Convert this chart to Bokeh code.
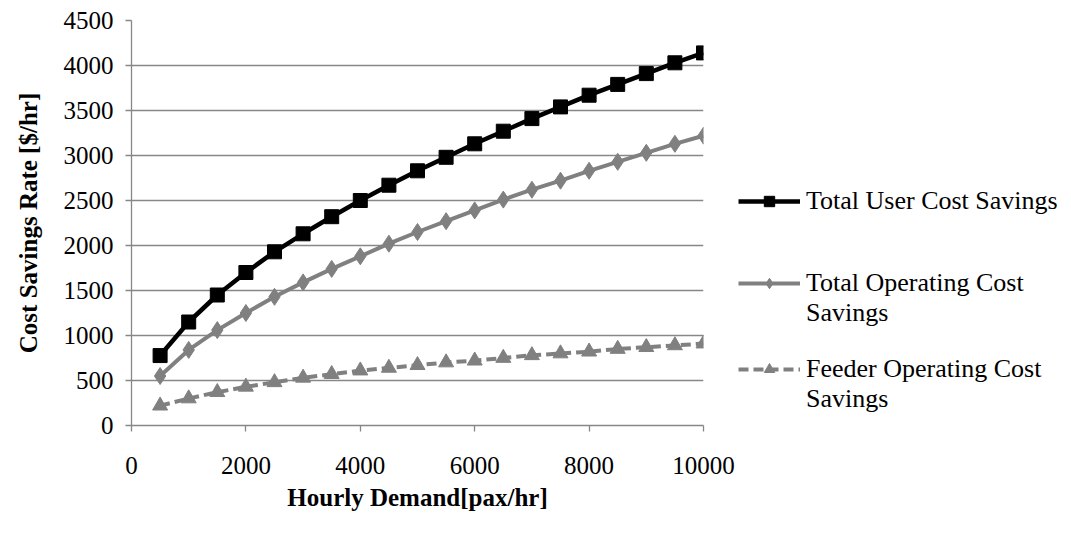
from bokeh.plotting import figure
from bokeh.layouts import row
from bokeh.models import Range1d, Legend, LegendItem, FixedTicker
from bokeh.embed import file_html
from bokeh.resources import INLINE

demand = [500, 1000, 1500, 2000, 2500, 3000, 3500, 4000, 4500, 5000,
          5500, 6000, 6500, 7000, 7500, 8000, 8500, 9000, 9500, 10000]
user_savings = [777, 1150, 1450, 1700, 1930, 2130, 2320, 2500, 2670, 2830,
                2980, 3130, 3270, 3410, 3540, 3670, 3790, 3910, 4030, 4140]
operating_savings = [550, 840, 1060, 1250, 1430, 1590, 1740, 1880, 2020, 2150,
                     2270, 2390, 2510, 2620, 2720, 2830, 2930, 3030, 3130, 3220]
feeder_savings = [220, 300, 370, 430, 480, 530, 570, 610, 640, 670,
                  700, 720, 750, 780, 800, 820, 850, 870, 890, 910]
legend_lines = [["Total User Cost Savings"],
                ["Total Operating Cost", "Savings"],
                ["Feeder Operating Cost", "Savings"]]
x_ticks = [0, 2000, 4000, 6000, 8000, 10000]
y_ticks = [0, 500, 1000, 1500, 2000, 2500, 3000, 3500, 4000, 4500]

FONT = "Liberation Serif"
GRID = "#878787"
GRAY = "#808080"

H = 522
p = figure(width=738, height=H, output_backend="svg", toolbar_location=None,
           x_range=Range1d(0, 10000), y_range=Range1d(0, 4500),
           min_border_left=131, min_border_top=20, min_border_bottom=97,
           min_border_right=35)
p.outline_line_color = None
p.background_fill_color = "white"
p.border_fill_color = "white"

p.xgrid.grid_line_color = None
p.ygrid.grid_line_color = GRID
p.ygrid.grid_line_width = 1.3

for ax in (p.xaxis[0], p.yaxis[0]):
    ax.axis_line_color = GRID
    ax.axis_line_width = 1.3
    ax.major_tick_line_color = GRID
    ax.major_tick_line_width = 1.3
    ax.major_tick_in = 0
    ax.major_tick_out = 6
    ax.minor_tick_line_color = None
    ax.major_label_text_font = FONT
    ax.major_label_text_font_size = "25px"
    ax.major_label_text_color = "black"
    ax.axis_label_text_font = FONT
    ax.axis_label_text_font_size = "25px"
    ax.axis_label_text_font_style = "bold"
    ax.axis_label_text_color = "black"

p.xaxis.ticker = FixedTicker(ticks=x_ticks)
p.yaxis.ticker = FixedTicker(ticks=y_ticks)
p.xaxis.major_label_standoff = 25
p.yaxis.major_label_standoff = 12
p.xaxis.axis_label = "Hourly Demand[pax/hr]"
p.yaxis.axis_label = "Cost Savings Rate [$/hr]"
p.xaxis.axis_label_standoff = 7
p.yaxis.axis_label_standoff = 19

line_styles = [dict(line_color="black", line_width=4.5),
               dict(line_color=GRAY, line_width=4),
               dict(line_color=GRAY, line_width=4, line_dash="10 5")]
marker_styles = [dict(marker="square", size=14, fill_color="black", line_color="black"),
                 dict(marker="diamond", size=17, fill_color=GRAY, line_color=GRAY),
                 dict(marker="triangle", size=15, fill_color=GRAY, line_color=GRAY)]
series = [user_savings, operating_savings, feeder_savings]

for vals, ls, ms in zip(series, line_styles, marker_styles):
    p.line(demand, vals, **ls)
    p.scatter(demand, vals, **ms)

# Legend panel to the right of the chart
p2 = figure(width=330, height=H, output_backend="svg", toolbar_location=None,
            x_range=Range1d(0, 1), y_range=Range1d(0, 1),
            x_axis_type=None, y_axis_type=None, min_border=0)
p2.outline_line_color = None
p2.grid.visible = False
p2.background_fill_color = "white"
p2.border_fill_color = "white"

# key renderers sit outside the visible range; they only feed the legend
off = [5], [5]
blank = p2.line(*off, line_alpha=0)
keys = []
for ls, ms in zip(line_styles, marker_styles):
    keys.append([p2.line(*off, **ls), p2.scatter(*off, **ms)])

items = [
    LegendItem(label=legend_lines[0][0], renderers=keys[0]),
    LegendItem(label=" ", renderers=[blank]),
    LegendItem(label=" ", renderers=[blank]),
    LegendItem(label=legend_lines[1][0], renderers=keys[1]),
    LegendItem(label=legend_lines[1][1], renderers=[blank]),
    LegendItem(label=" ", renderers=[blank]),
    LegendItem(label=legend_lines[2][0], renderers=keys[2]),
    LegendItem(label=legend_lines[2][1], renderers=[blank]),
]
lg = Legend(items=items, location=(0, 11))
lg.border_line_color = None
lg.background_fill_alpha = 0
lg.label_text_font = FONT
lg.label_text_font_size = "26px"
lg.label_text_color = "black"
lg.glyph_width = 62
lg.glyph_height = 26
lg.label_height = 26
lg.label_standoff = 6
lg.spacing = 0
lg.padding = 0
lg.margin = 0
p2.add_layout(lg, "center")

layout = row(p, p2)
open("out.html", "w").write(file_html(layout, INLINE))
